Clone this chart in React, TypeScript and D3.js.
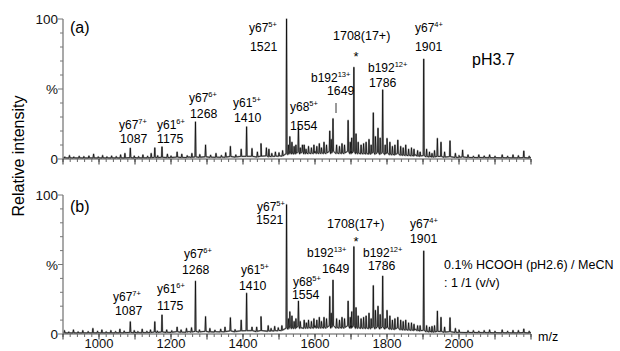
import React from "react";
import * as d3 from "d3";

type P = [number, number];

// ---------- data ----------
const xTickLabels = [1000, 1200, 1400, 1600, 1800, 2000];
const yTickLabels: [number, string][] = [[0, "0"], [50, "%"], [100, "100"]];

const annotIons = ["y67", "y61", "y67", "y61", "y67", "y68", "b192", "b192", "y67"];
const annotCharges = ["7+", "6+", "6+", "5+", "5+", "5+", "13+", "12+", "4+"];
const annotMz = ["1087", "1175", "1268", "1410", "1521", "1554", "1649", "1786", "1901"];
const parentLabel = "1708(17+)";
const panelTags = ["(a)", "(b)"];
const conditionA = ["pH3.7"];
const conditionB = ["0.1% HCOOH (pH2.6) / MeCN", ": 1 /1 (v/v)"];

// panel (a) labelled and strong peaks [m/z, %]
const peaksA: P[] = [
  [1087, 7.8], [1155, 8], [1175, 8.7], [1217, 5], [1268, 26.5], [1296, 10], [1365, 9],
  [1395, 7], [1410, 23], [1425, 7.5], [1450, 11], [1465, 8], [1521, 100], [1530, 16],
  [1554, 23.4], [1565, 10], [1641, 20], [1650, 28.8], [1692, 27.6], [1708, 65.5],
  [1762, 33], [1775, 22], [1788, 49.4], [1800, 14.7], [1830, 13.5], [1902, 71.4],
  [1940, 14.7], [1950, 12], [1975, 13], [2010, 6.4], [2180, 5.7],
];
// panel (a) small noise peaks
const grassA: P[] = [
  [905, 1.5], [918, 2.5], [930, 1.5], [945, 2], [958, 1.8], [972, 2.2], [985, 3.5], [998, 1.6],
  [1010, 2.5], [1022, 1.6], [1035, 2.2], [1048, 1.8], [1060, 3], [1072, 4], [1098, 2.2],
  [1110, 1.8], [1122, 3], [1135, 2], [1145, 4], [1163, 2.4], [1190, 3.5], [1200, 2.2],
  [1230, 3.5], [1245, 2.4], [1258, 4], [1280, 3.2], [1310, 2.8], [1325, 4], [1340, 2.6],
  [1352, 4.5], [1380, 3], [1440, 5], [1472, 7], [1480, 4], [1490, 5], [1500, 4.5],
  [1510, 6], [1526, 10], [1536, 12], [1542, 9], [1547, 10], [1559, 8], [1570, 10],
  [1575, 7], [1582, 9], [1590, 8], [1597, 10], [1605, 9], [1612, 11], [1618, 8],
  [1625, 12], [1632, 10], [1645, 14], [1660, 10], [1668, 9], [1675, 11], [1682, 10],
  [1698, 12], [1702, 15], [1714, 18], [1720, 12], [1728, 10], [1735, 11], [1742, 12],
  [1750, 14], [1756, 10], [1768, 16], [1781, 15], [1795, 10], [1808, 12], [1815, 9],
  [1822, 10], [1838, 9], [1845, 8], [1852, 10], [1860, 7], [1868, 8], [1875, 7],
  [1885, 6], [1892, 5], [1910, 7], [1918, 5], [1925, 4], [1932, 6], [1960, 5],
  [1990, 4], [2000, 2.5], [2025, 3], [2040, 2], [2055, 3], [2070, 2.2], [2085, 3],
  [2100, 2], [2120, 3], [2135, 2], [2150, 3], [2165, 2.4], [2195, 2],
];
const baseA: P[] = [
  [900, 1], [1100, 1], [1250, 1.5], [1450, 2], [1515, 3], [1530, 5], [1600, 5.5],
  [1700, 5.5], [1800, 4.5], [1880, 3], [1920, 2], [2000, 1.5], [2200, 1],
];

// panel (b)
const peaksB: P[] = [
  [1087, 8.8], [1155, 8.8], [1175, 13.7], [1217, 5], [1268, 38], [1296, 12.5], [1365, 11.7],
  [1395, 10], [1410, 29.3], [1425, 5], [1450, 12.5], [1521, 93], [1530, 16], [1554, 23.7],
  [1641, 27], [1650, 38.8], [1692, 23.7], [1708, 62.8], [1762, 34.8], [1775, 20],
  [1788, 41.7], [1800, 17], [1830, 12], [1902, 59.7], [1940, 16.5], [1950, 12],
  [1975, 11.7], [2180, 3.6],
];
const grassB: P[] = [
  [904, 2.5], [916, 1.5], [929, 3], [942, 1.6], [955, 2.5], [970, 1.8], [983, 4], [996, 2],
  [1008, 3], [1020, 1.6], [1033, 2.5], [1046, 1.8], [1058, 3.5], [1070, 2.2], [1098, 2.5],
  [1108, 1.8], [1120, 3.5], [1133, 2], [1143, 3], [1162, 2.2], [1188, 3], [1202, 2.4],
  [1228, 3], [1243, 4], [1257, 4.5], [1279, 3], [1308, 4], [1322, 2.8], [1338, 3.5],
  [1350, 5], [1378, 3.2], [1438, 5], [1470, 6], [1478, 4], [1488, 5.5], [1498, 4.5],
  [1508, 6], [1526, 11], [1536, 13], [1542, 9], [1547, 11], [1559, 9], [1570, 10],
  [1576, 8], [1582, 10], [1590, 9], [1597, 11], [1605, 10], [1612, 12], [1618, 9],
  [1625, 12], [1632, 11], [1645, 15], [1660, 11], [1668, 10], [1675, 12], [1682, 11],
  [1698, 12], [1702, 16], [1714, 19], [1720, 13], [1728, 11], [1735, 12], [1742, 13],
  [1750, 15], [1756, 11], [1768, 17], [1781, 14], [1795, 11], [1808, 13], [1815, 10],
  [1822, 11], [1838, 10], [1845, 9], [1852, 10], [1860, 8], [1868, 8], [1875, 7],
  [1885, 6], [1892, 6], [1910, 6], [1918, 5], [1925, 5.5], [1932, 6], [1960, 5],
  [1990, 4], [2000, 3], [2025, 2.4], [2040, 2.5], [2055, 2], [2070, 2.5], [2085, 3],
  [2100, 2], [2120, 3], [2135, 2], [2150, 2.6], [2165, 2.5], [2195, 2],
];
const baseB: P[] = [
  [900, 1], [1100, 1.2], [1250, 1.8], [1450, 2.5], [1515, 3.5], [1530, 5.5], [1600, 6],
  [1700, 6], [1800, 5], [1880, 3.5], [1920, 2], [2000, 1.5], [2200, 1],
];

// ---------- layout ----------
const W = 620;
const H = 351;
const X0 = 63;
const X1 = 531;
const FONT = "'Liberation Sans', Arial, Helvetica, sans-serif";

// per panel label positions: [ionX, ionY, mzX, mzY]
const posA: number[][] = [
  [119, 129, 120, 143], [157, 129, 157, 143], [189, 102, 190, 118], [233, 107, 234, 122],
  [249, 32, 250, 51], [290, 111, 290, 130], [311, 82, 327, 95], [368, 72, 369, 87],
  [415, 32, 415, 51],
];
const posB: number[][] = [
  [113, 301, 115, 315], [157, 293, 157, 310], [184, 258, 182, 274], [241, 274, 239, 290],
  [257, 211, 256, 223.5], [293, 286, 292, 298.5], [307, 257, 322, 273], [363, 257, 368, 269.5],
  [410, 228, 410, 243],
];

const panels = [
  { y0: 159, y100: 19, peaks: peaksA, grass: grassA, base: baseA, pos: posA, tag: [70, 33],
    parent: [333, 40, 356, 61], xLabels: false },
  { y0: 334, y100: 195, peaks: peaksB, grass: grassB, base: baseB, pos: posB, tag: [70, 212],
    parent: [327, 228, 356, 246], xLabels: true },
];

const x = d3.scaleLinear().domain([900, 2200]).range([X0, X1]);

function spectrumPath(peaks: P[], grass: P[], base: P[], y: d3.ScaleLinear<number, number>) {
  const bx = d3.scaleLinear().domain(base.map((d) => d[0])).range(base.map((d) => d[1])).clamp(true);
  const pts: P[] = base.map((d) => [d[0], d[1]] as P);
  for (const [m, h] of peaks) {
    const b = bx(m);
    pts.push([m - 1.4, b], [m, Math.max(h, b)], [m + 1.4, b]);
  }
  for (const [m, h] of grass) {
    const b = bx(m);
    pts.push([m - 1.6, b * 0.7], [m, Math.max(h, b)], [m + 1.6, b * 0.8]);
  }
  pts.sort((a, b) => a[0] - b[0]);
  return d3.line<P>().x((d) => x(d[0])).y((d) => y(d[1]))(pts) || "";
}

function Panel({ p }: { p: (typeof panels)[number] }) {
  const y = d3.scaleLinear().domain([0, 100]).range([p.y0, p.y100]);
  const d = spectrumPath(p.peaks, p.grass, p.base, y);
  const minorX = d3.range(900, 2201, 20);
  const majorX = d3.range(900, 2201, 100);
  const yTicks = d3.range(0, 101, 10);
  return (
    <g>
      {/* spectrum */}
      <path d={d} fill="none" stroke="#a8a8a8" strokeWidth={1.8} strokeLinejoin="round" />
      <path d={d} fill="none" stroke="#000" strokeWidth={0.7} strokeLinejoin="round" />
      {/* y axis */}
      <line x1={X0} x2={X0} y1={y(100)} y2={y(0)} stroke="#8c8c8c" strokeWidth={1.5} />
      {yTicks.map((t) => (
        <line key={t} x1={X0 - (t % 50 === 0 ? 5 : 3)} x2={X0} y1={y(t)} y2={y(t)} stroke="#777" strokeWidth={1} />
      ))}
      {yTickLabels.map(([v, s]) => (
        <text key={s} x={X0 - 5} y={y(v) + 5} textAnchor="end" fontSize={13.5} fill="#111">{s}</text>
      ))}
      {/* x axis */}
      <line x1={X0} x2={X1} y1={p.y0} y2={p.y0} stroke="#555" strokeWidth={1.2} />
      {minorX.map((t) => (
        <line key={"m" + t} x1={x(t)} x2={x(t)} y1={p.y0} y2={p.y0 + 3} stroke="#666" strokeWidth={1} />
      ))}
      {majorX.map((t) => (
        <line key={"M" + t} x1={x(t)} x2={x(t)} y1={p.y0} y2={p.y0 + 5.5} stroke="#333" strokeWidth={1} />
      ))}
      {p.xLabels &&
        xTickLabels.map((t) => (
          <text key={"l" + t} x={x(t)} y={p.y0 + 14} textAnchor="middle" fontSize={13} fill="#111">{t}</text>
        ))}
      {/* annotations */}
      {annotIons.map((ion, i) => (
        <g key={i}>
          <text x={p.pos[i][0]} y={p.pos[i][1]} fontSize={12}>
            {ion}
            <tspan fontSize={7.5} dy={-5}>{annotCharges[i]}</tspan>
          </text>
          <text x={p.pos[i][2]} y={p.pos[i][3]} fontSize={12.3}>{annotMz[i]}</text>
        </g>
      ))}
      <text x={p.parent[0]} y={p.parent[1]} fontSize={12.5}>{parentLabel}</text>
      <text x={p.parent[2]} y={p.parent[3]} fontSize={13} textAnchor="middle">*</text>
      <text x={p.tag[0]} y={p.tag[1]} fontSize={16}>{panelTags[p.xLabels ? 1 : 0]}</text>
    </g>
  );
}

export default function App() {
  return (
    <svg
      width={W}
      height={H}
      viewBox={`0 0 ${W} ${H}`}
      style={{ position: "absolute", left: 0, top: 0, background: "#fff", fontFamily: FONT }}
    >
      <rect x={0} y={0} width={W} height={H} fill="#fff" />
      {panels.map((p, i) => (
        <Panel key={i} p={p} />
      ))}
      {/* 1649 marker in panel (a) */}
      <line x1={336} x2={336} y1={103} y2={113} stroke="#000" strokeWidth={0.8} />
      <text x={472} y={65} fontSize={16}>{conditionA[0]}</text>
      <text x={444} y={269} fontSize={12.5}>{conditionB[0]}</text>
      <text x={444} y={287} fontSize={12.5}>{conditionB[1]}</text>
      <text x={538} y={341} fontSize={12.5}>m/z</text>
      <text transform="translate(23.5,156) rotate(-90)" textAnchor="middle" fontSize={16}>
        Relative intensity
      </text>
    </svg>
  );
}
